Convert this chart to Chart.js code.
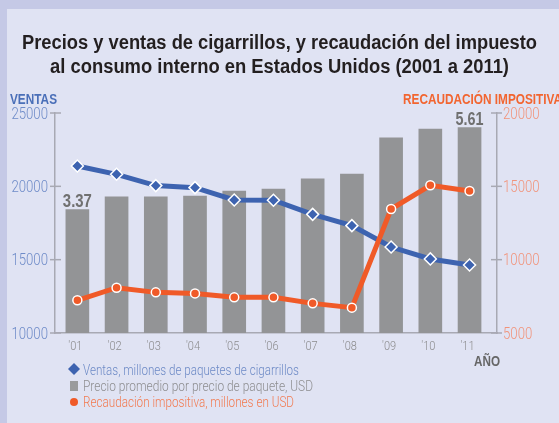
<!DOCTYPE html>
<html>
<head>
<meta charset="utf-8">
<script src="https://cdn.jsdelivr.net/npm/chart.js@4/dist/chart.umd.min.js"></script>
<style>
  html, body { margin: 0; padding: 0; background: #e0e3f3; }
  #wrap { width: 559px; height: 423px; position: relative; }
</style>
</head>
<body>
<div id="wrap"><canvas id="chart" width="559" height="423"></canvas></div>
<script>
// Data
const YEARS = ["'01", "'02", "'03", "'04", "'05", "'06", "'07", "'08", "'09", "'10", "'11"];
const VENTAS = [21390, 20820, 20050, 19910, 19070, 19050, 18090, 17320, 15860, 15050, 14640];   // millones de paquetes
const PRECIO = [3.37, 3.72, 3.72, 3.74, 3.88, 3.93, 4.21, 4.34, 5.33, 5.57, 5.61];               // USD por paquete
const RECAUDACION = [7230, 8090, 7770, 7700, 7430, 7430, 7020, 6730, 13450, 15070, 14680];     // millones USD
const VENTAS_TICKS = [10000, 15000, 20000, 25000];
const RECAUD_TICKS = [5000, 10000, 15000, 20000];

const SANS = '"Liberation Sans", Arial, sans-serif';
const LIGHT = '300 %spx Roboto, "Liberation Sans", sans-serif';
const BLUE = "#3d63b0";
const ORANGE = "#f05a28";
const GREY = "#939496";
const AXIS = "#a8a9b3";

const xy = (arr) => arr.map((v, i) => ({ x: i + 1, y: v }));
const bold = (s) => "bold " + s + "px " + SANS;
const light = (s) => LIGHT.replace("%s", s);

// draws text squeezed horizontally: to a given width, or by a given factor
function squeezed(ctx, str, x, y, font, color, align, width, factor) {
  ctx.save();
  ctx.font = font;
  const w = ctx.measureText(str).width;
  const sx = width ? width / w : (factor || 0.82);
  ctx.translate(x, y);
  ctx.scale(sx, 1);
  ctx.fillStyle = color;
  ctx.textAlign = align || "left";
  ctx.textBaseline = "alphabetic";
  ctx.fillText(str, 0, 0);
  ctx.restore();
  return sx;
}

// background frame, axes ticks + labels, title, legend
const decor = {
  id: "decor",
  beforeDraw(chart) {
    const ctx = chart.ctx;
    ctx.save();
    ctx.fillStyle = "#c5c9e6";
    ctx.fillRect(0, 0, chart.width, chart.height);
    ctx.fillStyle = "#e0e3f3";
    ctx.fillRect(7, 9, chart.width - 7, chart.height - 9);
    ctx.restore();
  },
  afterDraw(chart) {
    const ctx = chart.ctx;
    const { left, right, bottom } = chart.chartArea;
    const y = chart.scales.y, y1 = chart.scales.y1, xs = chart.scales.x, yp = chart.scales.yp;

    // tick marks crossing the axis lines
    ctx.save();
    ctx.strokeStyle = AXIS;
    ctx.lineWidth = 1.5;
    VENTAS_TICKS.forEach((v) => {
      const py = y.getPixelForValue(v);
      ctx.beginPath(); ctx.moveTo(left - 5, py); ctx.lineTo(left + 6, py); ctx.stroke();
    });
    RECAUD_TICKS.forEach((v) => {
      const py = y1.getPixelForValue(v);
      ctx.beginPath(); ctx.moveTo(right - 6, py); ctx.lineTo(right + 5, py); ctx.stroke();
    });
    ctx.restore();

    // tick labels
    let sxTick = null;
    VENTAS_TICKS.forEach((v) => {
      const py = y.getPixelForValue(v) + 5.5;
      if (sxTick === null) {
        sxTick = squeezed(ctx, String(v), left - 7, py, light(16), "#6e8bc8", "right", 36.6);
      } else {
        squeezed(ctx, String(v), left - 7, py, light(16), "#6e8bc8", "right", null, sxTick);
      }
    });
    RECAUD_TICKS.forEach((v) => {
      const py = y1.getPixelForValue(v) + 5.5;
      squeezed(ctx, String(v), right + 6, py, light(16), "#f1937a", "left", null, sxTick);
    });
    YEARS.forEach((lab, i) => {
      squeezed(ctx, lab, xs.getPixelForValue(i + 1) - 2, bottom + 17, light(13), "#8c8c8e", "center", null, 0.85);
    });

    // title
    squeezed(ctx, "Precios y ventas de cigarrillos, y recaudación del impuesto", 279.5, 49, bold(20), "#231f20", "center", 515);
    squeezed(ctx, "al consumo interno en Estados Unidos (2001 a 2011)", 279.5, 73, bold(20), "#231f20", "center", 459);

    // axis names
    const sxName = squeezed(ctx, "VENTAS", 10, 104, bold(14), "#4a6fb8", "left", 47);
    squeezed(ctx, "RECAUDACIÓN IMPOSITIVA", 403, 104, bold(14), "#f26530", "left", null, sxName);
    squeezed(ctx, "AÑO", 474, 366, bold(14), "#666666", "left", 26);

    // price labels on first and last bar
    const first = 0, last = PRECIO.length - 1;
    squeezed(ctx, PRECIO[first].toFixed(2), xs.getPixelForValue(first + 1), yp.getPixelForValue(PRECIO[first]) - 3, bold(18), "#707070", "center", 29);
    squeezed(ctx, PRECIO[last].toFixed(2), xs.getPixelForValue(last + 1), yp.getPixelForValue(PRECIO[last]) - 3, bold(18), "#707070", "center", 28);

    // legend
    ctx.save();
    ctx.fillStyle = BLUE;
    ctx.beginPath();
    ctx.moveTo(74, 363); ctx.lineTo(80, 369); ctx.lineTo(74, 375); ctx.lineTo(68, 369);
    ctx.closePath(); ctx.fill();
    ctx.fillStyle = "#9a9b9d";
    ctx.fillRect(70, 381, 8, 10);
    ctx.fillStyle = ORANGE;
    ctx.beginPath(); ctx.arc(74, 402, 4, 0, Math.PI * 2); ctx.fill();
    ctx.restore();
    squeezed(ctx, "Ventas, millones de paquetes de cigarrillos", 83, 375, light(15), "#6d8ac6", "left", 216);
    squeezed(ctx, "Precio promedio por precio de paquete, USD", 83, 391, light(15), "#8e8e90", "left", 230);
    squeezed(ctx, "Recaudación impositiva, millones en USD", 83, 407, light(15), "#f27a50", "left", 211);
  }
};

new Chart(document.getElementById("chart"), {
  data: {
    datasets: [
      {
        type: "line",
        label: "Recaudación impositiva, millones en USD",
        data: xy(RECAUDACION),
        yAxisID: "y1",
        borderColor: ORANGE,
        borderWidth: 5,
        pointStyle: "circle",
        pointRadius: 4.5,
        pointBackgroundColor: ORANGE,
        pointBorderColor: "#ffffff",
        pointBorderWidth: 1.5,
        order: 1,
      },
      {
        type: "line",
        label: "Ventas, millones de paquetes de cigarrillos",
        data: xy(VENTAS),
        yAxisID: "y",
        borderColor: BLUE,
        borderWidth: 5,
        pointStyle: "rectRot",
        pointRadius: 6,
        pointBackgroundColor: BLUE,
        pointBorderColor: "#ffffff",
        pointBorderWidth: 1.5,
        order: 2,
      },
      {
        type: "bar",
        label: "Precio promedio por precio de paquete, USD",
        data: xy(PRECIO),
        yAxisID: "yp",
        backgroundColor: GREY,
        barThickness: 23,
        order: 3,
      },
    ],
  },
  options: {
    responsive: false,
    animation: false,
    layout: { padding: { left: 0, right: 0, top: 113, bottom: 65 } },
    plugins: { legend: { display: false }, title: { display: false }, tooltip: { enabled: false } },
    scales: {
      x: {
        type: "linear",
        min: 0.43,
        max: 11.7,
        offset: false,
        afterFit: (s) => { s.height = 25; },
        grid: { display: false, drawTicks: false, offset: false },
        border: { display: true, color: AXIS, width: 1.5 },
        ticks: { display: false },
      },
      y: {
        position: "left",
        min: 10000,
        max: 25000,
        afterFit: (s) => { s.width = 55; },
        grid: { display: false, drawTicks: false },
        border: { display: true, color: AXIS, width: 1.5 },
        ticks: { display: false },
      },
      y1: {
        position: "right",
        min: 5000,
        max: 20000,
        afterFit: (s) => { s.width = 62; },
        grid: { display: false, drawTicks: false },
        border: { display: true, color: AXIS, width: 1.5 },
        ticks: { display: false },
      },
      yp: {
        display: false,
        min: 0,
        max: 6.01,
      },
    },
  },
  plugins: [decor],
});
</script>
</body>
</html>
